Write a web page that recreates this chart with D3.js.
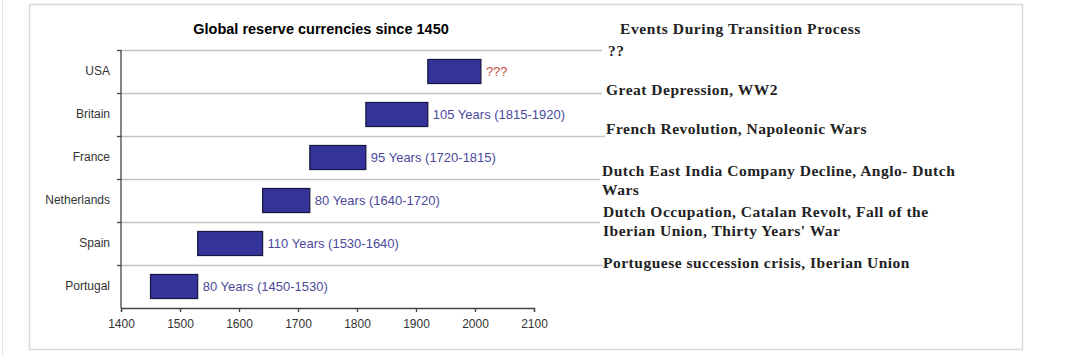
<!DOCTYPE html>
<html>
<head>
<meta charset="utf-8">
<script src="https://cdn.jsdelivr.net/npm/d3@7"></script>
<style>
  html, body { margin: 0; padding: 0; background: #fff; }
  svg { display: block; }
</style>
</head>
<body>
<svg id="chart" width="1079" height="356"></svg>
<script>
// ---- data ----
const categories = ["USA", "Britain", "France", "Netherlands", "Spain", "Portugal"];
const startYears = [1920, 1815, 1720, 1640, 1530, 1450];
const endYears   = [2010, 1920, 1815, 1720, 1640, 1530];
const barLabels  = ["???", "105 Years (1815-1920)", "95 Years (1720-1815)", "80 Years (1640-1720)", "110 Years (1530-1640)", "80 Years (1450-1530)"];
const xTicks = [1400, 1500, 1600, 1700, 1800, 1900, 2000, 2100];
const chartTitle = "Global reserve currencies since 1450";
const eventsTitle = "Events During Transition Process";
const events = [
  ["??"],
  ["Great Depression, WW2"],
  ["French Revolution, Napoleonic Wars"],
  ["Dutch East India Company Decline, Anglo- Dutch", "Wars"],
  ["Dutch Occupation, Catalan Revolt, Fall of the", "Iberian Union, Thirty Years' War"],
  ["Portuguese succession crisis, Iberian Union"]
];

// ---- layout ----
const svg = d3.select("#chart");
const plot = { left: 121, right: 534, top: 50, bottom: 308 };

// outer frame
svg.append("line").attr("x1", 2.5).attr("x2", 2.5).attr("y1", 0).attr("y2", 356)
  .attr("stroke", "#e4e4e4").attr("stroke-width", 1);
svg.append("rect").attr("x", 29.5).attr("y", 4.5).attr("width", 993).attr("height", 345)
  .attr("fill", "none").attr("stroke", "#d8d8d8").attr("stroke-width", 1.5);

const x = d3.scaleLinear().domain([1400, 2100]).range([plot.left, plot.right]);
const y = d3.scaleBand().domain(categories).range([plot.top, plot.bottom])
  .paddingInner(0.44).paddingOuter(0.22);
const step = y.step();
const boundaries = d3.range(categories.length).map(i => plot.top + i * step);

// connector line end x per row
const lineEnds = [602, 602, 605, 600, 600, 603];

// gridlines + connectors
svg.append("g").selectAll("line").data(boundaries).join("line")
  .attr("x1", plot.left).attr("x2", (d, i) => lineEnds[i])
  .attr("y1", d => Math.round(d) + 0.5).attr("y2", d => Math.round(d) + 0.5)
  .attr("stroke", "#c4c4c4").attr("stroke-width", 1.3);

// bars
svg.append("g").selectAll("rect").data(categories).join("rect")
  .attr("x", (d, i) => x(startYears[i]))
  .attr("y", d => y(d))
  .attr("width", (d, i) => x(endYears[i]) - x(startYears[i]))
  .attr("height", y.bandwidth())
  .attr("fill", "#333399")
  .attr("stroke", "#161640").attr("stroke-width", 1.2);

// bar labels
svg.append("g").selectAll("text").data(categories).join("text")
  .attr("x", (d, i) => x(endYears[i]) + 5)
  .attr("y", d => y(d) + y.bandwidth() / 2)
  .attr("dy", "0.35em")
  .attr("font-family", "Liberation Sans, Arial, sans-serif")
  .attr("font-size", 13)
  .attr("fill", (d, i) => i === 0 ? "#c84a4a" : "#4a4a9c")
  .text((d, i) => barLabels[i]);

// x axis
const xAxis = svg.append("g").attr("transform", `translate(0,${plot.bottom})`)
  .call(d3.axisBottom(x).tickValues(xTicks).tickFormat(d3.format("d")).tickSize(4).tickPadding(7).tickSizeOuter(4));
xAxis.select(".domain").attr("stroke", "#444").attr("stroke-width", 1.3);
xAxis.selectAll(".tick line").attr("stroke", "#444").attr("stroke-width", 1.3);
xAxis.selectAll("text").attr("font-family", "Liberation Sans, Arial, sans-serif")
  .attr("font-size", 12).attr("fill", "#333");

// y axis
const yAxis = svg.append("g").attr("transform", `translate(${plot.left},0)`)
  .call(d3.axisLeft(y).tickSize(0).tickPadding(11));
yAxis.select(".domain").attr("stroke", "#444").attr("stroke-width", 1.3)
  .attr("d", `M0,${plot.top}V${plot.bottom}`);
yAxis.selectAll("text").attr("font-family", "Liberation Sans, Arial, sans-serif")
  .attr("font-size", 12).attr("fill", "#333");
yAxis.append("g").selectAll("line").data(boundaries).join("line")
  .attr("x1", -4).attr("x2", 0)
  .attr("y1", d => Math.round(d) + 0.5).attr("y2", d => Math.round(d) + 0.5)
  .attr("stroke", "#444").attr("stroke-width", 1.3);

// chart title
svg.append("text").attr("x", 321).attr("y", 29).attr("dy", "0.35em")
  .attr("text-anchor", "middle")
  .attr("font-family", "Liberation Sans, Arial, sans-serif")
  .attr("font-weight", "bold").attr("font-size", 14.5).attr("fill", "#000")
  .text(chartTitle);

// events title
svg.append("text").attr("x", 620).attr("y", 29).attr("dy", "0.35em")
  .attr("font-family", "Liberation Serif, Times New Roman, serif")
  .attr("font-weight", "bold").attr("font-size", 15.5).attr("letter-spacing", 0.6).attr("fill", "#222")
  .text(eventsTitle);

// events text
const eventX = [608, 606, 606, 602, 603, 603];
const eventY = [51, 90, 129, 171, 212, 263];
const evG = svg.append("g");
events.forEach((lines, i) => {
  const t = evG.append("text").attr("x", eventX[i]).attr("y", eventY[i])
    .attr("font-family", "Liberation Serif, Times New Roman, serif")
    .attr("font-weight", "bold").attr("font-size", 15.5).attr("letter-spacing", 0.5).attr("fill", "#222");
  lines.forEach((ln, j) => {
    t.append("tspan").attr("x", eventX[i]).attr("dy", j === 0 ? "0.35em" : "1.2em").text(ln);
  });
});
</script>
</body>
</html>
